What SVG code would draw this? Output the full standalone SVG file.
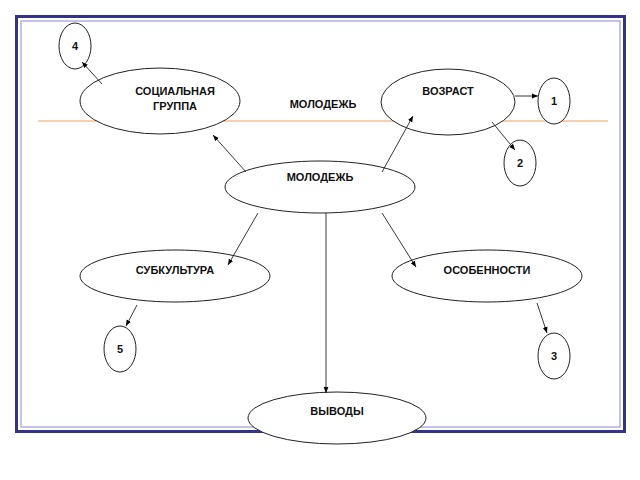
<svg xmlns="http://www.w3.org/2000/svg" width="640" height="480" viewBox="0 0 640 480">
<defs>
<marker id="ah" viewBox="0 0 10 10" refX="10" refY="5" markerWidth="6" markerHeight="6" orient="auto" markerUnits="userSpaceOnUse"><path d="M0,1 L10,5 L0,9 z" fill="#000"/></marker>
<style>
.n{fill:#fff;stroke:#222;stroke-width:1}
.t{font-family:"Liberation Sans",Arial,sans-serif;font-size:11px;font-weight:bold;fill:#111;text-anchor:middle}
.c{stroke:#222;stroke-width:0.9;fill:none;marker-end:url(#ah)}
</style>
</defs>
<rect width="640" height="480" fill="#fff"/>
<rect x="16.5" y="16.5" width="608" height="415" fill="none" stroke="#33338a" stroke-width="3"/>
<rect x="21" y="21" width="599" height="406" fill="none" stroke="#8888c8" stroke-width="1"/>
<line x1="38" y1="121" x2="608" y2="121" stroke="#f0a060" stroke-width="1"/>
<text class="t" x="323" y="108">МОЛОДЕЖЬ</text>
<g id="social"><ellipse class="n" cx="160" cy="101" rx="80" ry="33"/><text class="t" x="175" y="95">СОЦИАЛЬНАЯ</text><text class="t" x="175" y="110">ГРУППА</text></g>
<g id="age"><ellipse class="n" cx="448" cy="102" rx="67" ry="33"/><text class="t" x="448" y="95">ВОЗРАСТ</text></g>
<g id="youth"><ellipse class="n" cx="320" cy="187" rx="95" ry="26"/><text class="t" x="320" y="181">МОЛОДЕЖЬ</text></g>
<g id="subculture"><ellipse class="n" cx="175" cy="276" rx="95" ry="26"/><text class="t" x="175" y="274">СУБКУЛЬТУРА</text></g>
<g id="features"><ellipse class="n" cx="487" cy="276" rx="95" ry="26"/><text class="t" x="487" y="274">ОСОБЕННОСТИ</text></g>
<g id="conclusions"><ellipse class="n" cx="337" cy="418" rx="89" ry="26"/><text class="t" x="337" y="415">ВЫВОДЫ</text></g>
<g id="n1"><ellipse class="n" cx="554" cy="101" rx="16" ry="23"/><text class="t" x="554" y="105">1</text></g>
<g id="n2"><ellipse class="n" cx="520" cy="163" rx="16" ry="23"/><text class="t" x="520" y="167">2</text></g>
<g id="n3"><ellipse class="n" cx="554" cy="356" rx="16" ry="23"/><text class="t" x="554" y="360">3</text></g>
<g id="n4"><ellipse class="n" cx="75" cy="46" rx="16" ry="23"/><text class="t" x="75" y="50">4</text></g>
<g id="n5"><ellipse class="n" cx="120" cy="349" rx="16" ry="23"/><text class="t" x="120" y="353">5</text></g>
<g id="connectors">
<line class="c" x1="102" y1="84" x2="82" y2="62"/>
<line class="c" x1="246" y1="172" x2="213" y2="135"/>
<line class="c" x1="382" y1="172" x2="413" y2="116"/>
<line class="c" x1="515" y1="96" x2="538" y2="96"/>
<line class="c" x1="492" y1="122" x2="515" y2="150"/>
<line class="c" x1="258" y1="213" x2="228" y2="265"/>
<line class="c" x1="382" y1="213" x2="416" y2="267"/>
<line class="c" x1="326" y1="213" x2="326" y2="393"/>
<line class="c" x1="137" y1="305" x2="126" y2="326"/>
<line class="c" x1="537" y1="303" x2="547" y2="333"/>
</g>
</svg>
